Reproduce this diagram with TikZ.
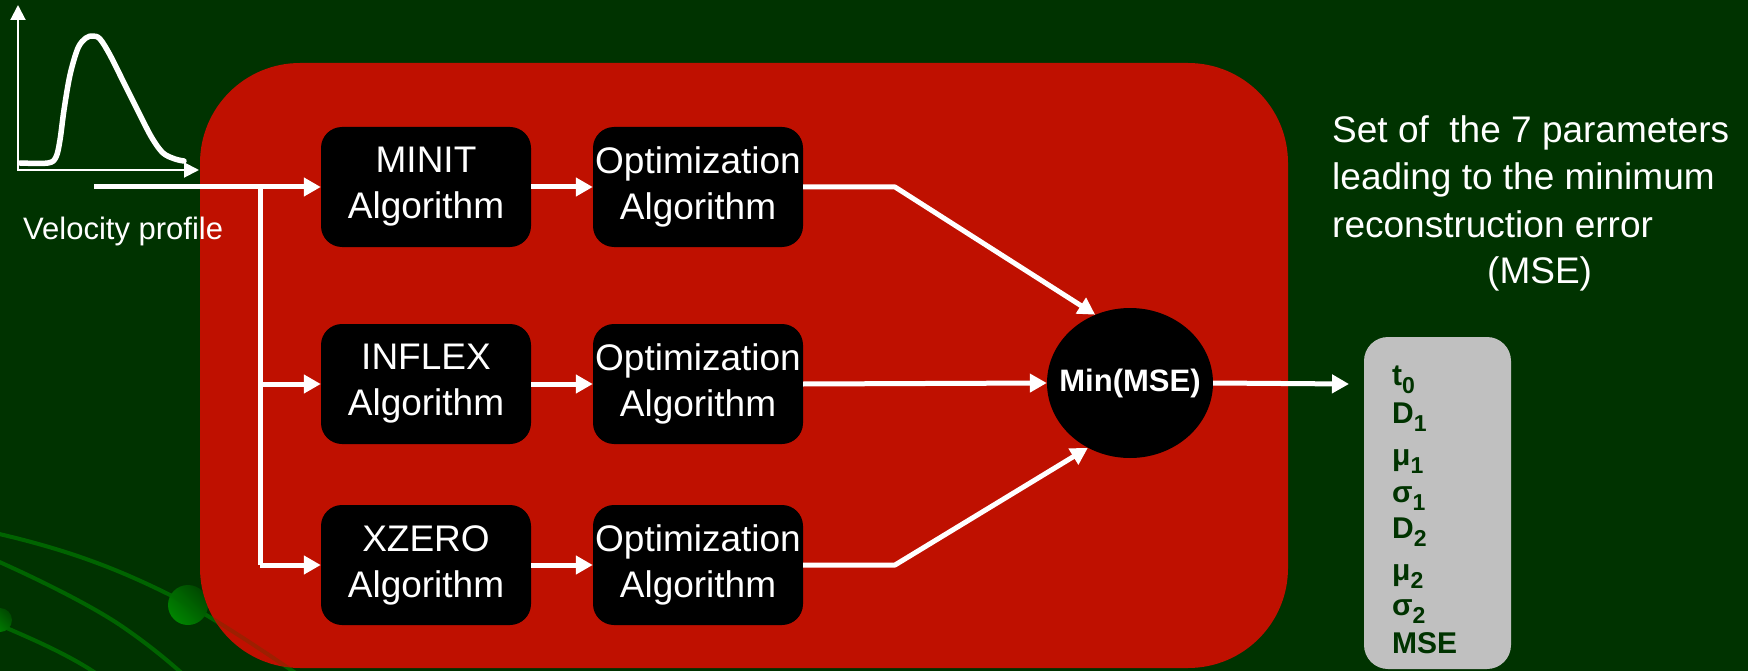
\documentclass[tikz,border=0pt]{standalone}
\usepackage{fontspec}
\setmainfont{Liberation Sans}
\usetikzlibrary{arrows.meta,shapes.geometric}

\definecolor{bggreen}{RGB}{0,51,0}
\definecolor{panelred}{RGB}{191,16,0}
\definecolor{vinegreen}{RGB}{0,100,0}
\definecolor{sphdark}{RGB}{0,72,0}
\definecolor{sphlight}{RGB}{0,132,0}
\definecolor{paramgray}{RGB}{192,192,192}

% lowered index used in the parameter list
\newcommand\lowidx[1]{\raisebox{-8pt}{\fontsize{23}{23}\selectfont #1}}

\begin{document}
\begin{tikzpicture}[x=1pt,y=-1pt,
  algbox/.style={fill=black, rounded corners=21pt, minimum width=210pt,
    minimum height=120pt, inner sep=0pt, align=center, text=white,
    font=\fontsize{37}{46}\selectfont},
  flow/.style={draw=white, line width=5pt},
  arr/.style={flow, -{Triangle[length=17pt,width=18pt]}},
  axisline/.style={draw=white, line width=2pt,
    {Triangle[length=15pt,width=15pt]}-{Triangle[length=15pt,width=15pt]}},
  vine/.style={draw=vinegreen, line width=4pt, line cap=round},
  param/.style={anchor=base west, inner sep=0pt, text=bggreen,
    font=\fontsize{30}{30}\selectfont\bfseries},
  note/.style={anchor=base west, inner sep=0pt, text=white,
    font=\fontsize{37}{47}\selectfont},
]
\useasboundingbox (0,0) rectangle (1748,671);
\fill[bggreen] (0,0) rectangle (1748,671);

% decorative vines in the lower left corner
\draw[vine] (-5,533) .. controls (60,548) and (110,565) .. (170,595)
  .. controls (200,610) and (240,635) .. (300,676);
\draw[vine] (-5,560) .. controls (40,580) and (90,605) .. (120,625)
  .. controls (145,642) and (165,658) .. (185,676);
\draw[vine] (-5,623) .. controls (30,638) and (70,655) .. (100,676);
\shade[top color=sphdark, bottom color=sphlight, shading angle=-45]
  (188,605) circle (20);
\shade[top color=sphdark, bottom color=sphlight, shading angle=-45]
  (0,620) circle (12);

% processing panel
\fill[panelred, rounded corners=100pt] (200,63) rectangle (1288,668);
\draw[vine, opacity=0.18] (170,595) .. controls (200,610) and (240,635) .. (300,676);

% velocity profile sketch
\coordinate (ytip) at (18,5);
\coordinate (origin) at (18,170);
\coordinate (xtip) at (199,170);
\draw[axisline] (ytip) -- (origin) -- (xtip);
\draw[white, line width=5.5pt, line cap=round, line join=round]
  plot[smooth, tension=0.55] coordinates {(20,163) (48,163) (56,157) (60,140)
  (64,110) (70,75) (78,48) (86,38) (93,36) (100,39) (110,55) (125,85)
  (140,115) (152,138) (163,153) (175,159) (184,161)};
\node[anchor=base west, inner sep=0pt, text=white,
  font=\fontsize{31}{31}\selectfont] (vlabel) at (23,240) {Velocity profile};

% algorithm blocks
\node[algbox] (minit)  at (426,187) {MINIT\\Algorithm};
\node[algbox] (opt1)   at (698,187) {Optimization\\Algorithm};
\node[algbox] (inflex) at (426,384) {INFLEX\\Algorithm};
\node[algbox] (opt2)   at (698,384) {Optimization\\Algorithm};
\node[algbox] (xzero)  at (426,565) {XZERO\\Algorithm};
\node[algbox] (opt3)   at (698,565) {Optimization\\Algorithm};

% selection of the smallest error; the label is boxed to zero width so
% the ellipse keeps its own size
\node[ellipse, fill=black, minimum width=166pt, minimum height=150pt,
  inner sep=0pt, text=white, font=\fontsize{31}{31}\selectfont\bfseries]
  (mse) at (1130,383) {\makebox[0pt]{Min(MSE)}};

% input and fan-out
\coordinate (inp) at (94,187);
\coordinate (split) at (260,187);
\draw[arr] (inp) -- (minit.west);
\draw[flow] (split) -- (split |- xzero.west);
\draw[arr] (split |- inflex.west) -- (inflex.west);
\draw[arr] (split |- xzero.west) -- (xzero.west);

% block to block
\draw[arr] (minit.east) -- (opt1.west);
\draw[arr] (inflex.east) -- (opt2.west);
\draw[arr] (xzero.east) -- (opt3.west);

% towards the minimum selection
\coordinate (bend1) at (895,187);
\coordinate (bend3) at (895,565);
\draw[arr, line join=round] (opt1.east) -- (bend1) -- (mse.117);
\draw[arr] (opt2.east) -- (mse.west);
\draw[arr, line join=round] (opt3.east) -- (bend3) -- (mse.237);

% output parameters
\node[fill=paramgray, rounded corners=24pt, minimum width=147pt,
  minimum height=332pt, inner sep=0pt] (params) at (1437.5,503) {};
\coordinate (out) at (1349,384);
\draw[arr] (mse.east) -- (out);

\node[param] (p1) at (1392,385) {t\lowidx{0}};
\node[param] (p2) at (1392,423) {D\lowidx{1}};
\node[param] (p3) at (1392,465) {μ\lowidx{1}};
\node[param] (p4) at (1392,502) {σ\lowidx{1}};
\node[param] (p5) at (1392,538) {D\lowidx{2}};
\node[param] (p6) at (1392,580) {μ\lowidx{2}};
\node[param] (p7) at (1392,615) {σ\lowidx{2}};
\node[param] (p8) at (1392,653) {MSE};

% explanatory note
\node[note] (n1) at (1332,143) {Set of\ \ the 7 parameters};
\node[note] (n2) at (1332,190) {leading to the minimum};
\node[note] (n3) at (1332,237) {reconstruction error};
\node[note] (n4) at (1487,283) {(MSE)};
\end{tikzpicture}
\end{document}
